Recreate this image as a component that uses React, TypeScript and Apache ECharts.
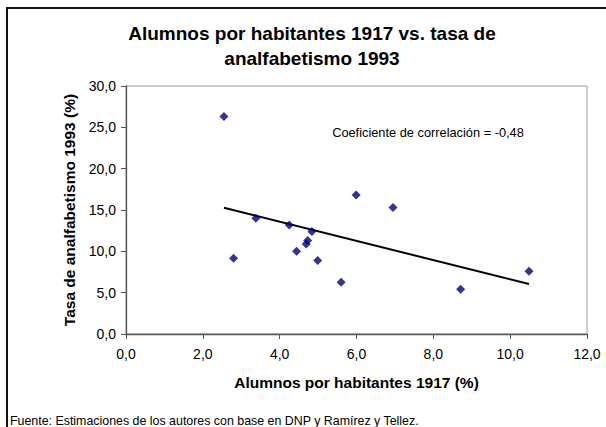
import React, { useEffect, useRef } from "react";
import * as echarts from "echarts";

const alumnos: number[] = [2.55, 2.8, 3.38, 4.25, 4.44, 4.69, 4.73, 4.84, 4.99, 5.6, 5.99, 6.95, 8.71, 10.49];
const analfabetismo: number[] = [26.3, 9.15, 14.0, 13.2, 10.0, 10.9, 11.3, 12.4, 8.9, 6.25, 16.8, 15.3, 5.4, 7.6];
const trendX: number[] = [2.55, 10.49];
const trendY: number[] = [15.27, 6.05];

const titleLines = ["Alumnos por habitantes 1917 vs. tasa de", "analfabetismo 1993"];
const xTitle = "Alumnos por habitantes 1917 (%)";
const yTitle = "Tasa de analfabetismo 1993 (%)";
const note = "Coeficiente de correlación = -0,48";
const source = "Fuente: Estimaciones de los autores con base en DNP y Ramírez y Tellez.";

const FONT = "'Liberation Sans', Arial, sans-serif";
const fmt = (v: number) => v.toFixed(1).replace(".", ",");

export default function App() {
  const ref = useRef<HTMLDivElement>(null);
  useEffect(() => {
    if (!ref.current) return;
    const chart = echarts.init(ref.current, undefined, { renderer: "svg" });
    const points = alumnos.map((x, i) => [x, analfabetismo[i]]);
    const trend = trendX.map((x, i) => [x, trendY[i]]);
    chart.setOption({
      animation: false,
      backgroundColor: "#ffffff",
      textStyle: { fontFamily: FONT },
      grid: { left: 126, right: 19, top: 86, bottom: 93, show: true, borderColor: "#9a9a9a", borderWidth: 1, backgroundColor: "transparent" },
      xAxis: {
        type: "value",
        min: 0,
        max: 12,
        interval: 2,
        name: xTitle,
        nameLocation: "middle",
        nameGap: 40,
        nameTextStyle: { fontFamily: FONT, fontSize: 15.5, fontWeight: "bold", color: "#000" },
        axisLine: { show: true, lineStyle: { color: "#555", width: 1.3 } },
        axisTick: { show: true, inside: false, length: 5, lineStyle: { color: "#555" } },
        axisLabel: { formatter: fmt, fontFamily: FONT, fontSize: 14, color: "#000", margin: 13 },
        splitLine: { show: false },
      },
      yAxis: {
        type: "value",
        min: 0,
        max: 30,
        interval: 5,
        name: yTitle,
        nameLocation: "middle",
        nameRotate: 90,
        nameGap: 48,
        nameTextStyle: { fontFamily: FONT, fontSize: 15.5, fontWeight: "bold", color: "#000" },
        axisLine: { show: true, lineStyle: { color: "#555", width: 1.3 } },
        axisTick: { show: true, inside: false, length: 5, lineStyle: { color: "#555" } },
        axisLabel: { formatter: fmt, fontFamily: FONT, fontSize: 14, color: "#000", margin: 10 },
        splitLine: { show: false },
      },
      series: [
        {
          type: "scatter",
          data: points,
          symbol: "diamond",
          symbolSize: 9,
          itemStyle: { color: "#000080" },
          z: 3,
        },
        {
          type: "line",
          data: trend,
          symbol: "none",
          lineStyle: { color: "#000", width: 2 },
          z: 2,
        },
      ],
      graphic: [
        { type: "rect", shape: { x: 7, y: 8, width: 700, height: 500 }, style: { fill: "none", stroke: "#111", lineWidth: 2 }, silent: true },
        { type: "text", x: 312, y: 33, style: { text: titleLines[0], fontFamily: FONT, fontSize: 19, fontWeight: "bold", fill: "#000", align: "center", verticalAlign: "middle" } },
        { type: "text", x: 312, y: 58, style: { text: titleLines[1], fontFamily: FONT, fontSize: 19, fontWeight: "bold", fill: "#000", align: "center", verticalAlign: "middle" } },
        { type: "text", x: 428, y: 132, style: { text: note, fontFamily: FONT, fontSize: 12.8, fill: "#000", align: "center", verticalAlign: "middle" } },
        { type: "text", x: 10, y: 421, style: { text: source, fontFamily: FONT, fontSize: 12.4, fill: "#000", align: "left", verticalAlign: "middle" } },
      ],
    });
    return () => chart.dispose();
  }, []);
  return <div ref={ref} style={{ position: "fixed", left: 0, top: 0, width: 606, height: 427 }} />;
}
